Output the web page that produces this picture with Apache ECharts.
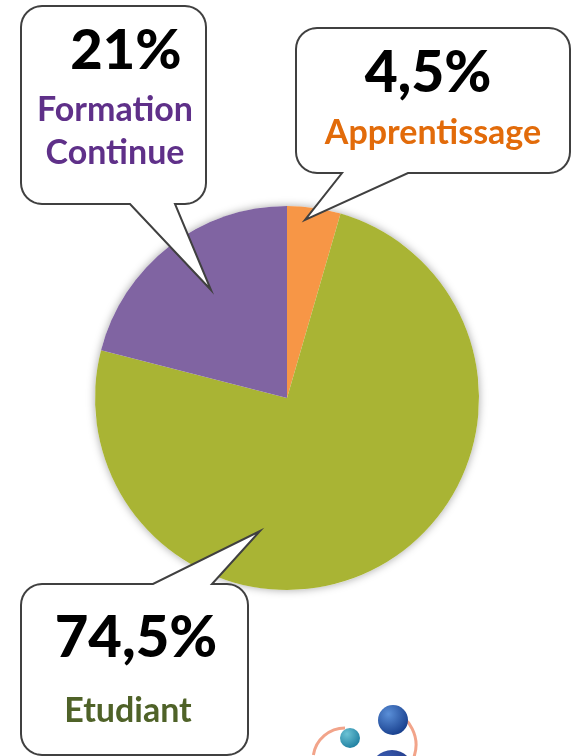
<!DOCTYPE html>
<html>
<head>
<meta charset="utf-8">
<script src="https://cdn.jsdelivr.net/npm/echarts@6/dist/echarts.min.js"></script>
<style>
  html, body { margin: 0; padding: 0; background: #fff; }
  #main { width: 571px; height: 756px; }
</style>
</head>
<body>
<div id="main"></div>
<script>
// data
const categories = ['Apprentissage', 'Etudiant', 'Formation Continue']
const values = [4.5, 74.5, 21]
const sliceColors = ['#F79646', '#A9B434', '#8064A2']
const labelColors = ['#E26B0A', '#4F6228', '#5F3089']

// callout bubbles (decoration): box, tail base on edge, tip
const bubbles = [
  { box: [296, 28, 570, 173], edge: 'bottom', base: [342, 408], tip: [305, 220], pct: [428, 74], name: [433, 133], pctSize: 57 },
  { box: [21, 584, 248, 755], edge: 'top', base: [153, 212], tip: [260, 531], pct: [136, 638], name: [128, 711], pctSize: 58 },
  { box: [21, 6, 206, 204], edge: 'bottom', base: [130, 175], tip: [211, 290], pct: [126, 51], name: [115, 132], pctSize: 56 }
]

function fmtPct(v) {
  return String(v).replace('.', ',') + '%'
}

// rounded corner points
function corner(cx, cy, r, a0, a1) {
  const pts = []
  for (let i = 0; i <= 8; i++) {
    const a = a0 + (a1 - a0) * i / 8
    pts.push([cx + r * Math.cos(a), cy + r * Math.sin(a)])
  }
  return pts
}

function bubblePoints(b) {
  const [x0, y0, x1, y1] = b.box
  const r = 21
  const P = Math.PI
  let pts = []
  pts = pts.concat(corner(x0 + r, y0 + r, r, P, 1.5 * P))
  if (b.edge === 'top') {
    pts.push([b.base[0], y0], b.tip, [b.base[1], y0])
  }
  pts = pts.concat(corner(x1 - r, y0 + r, r, 1.5 * P, 2 * P))
  pts = pts.concat(corner(x1 - r, y1 - r, r, 0, 0.5 * P))
  if (b.edge === 'bottom') {
    pts.push([b.base[1], y1], b.tip, [b.base[0], y1])
  }
  pts = pts.concat(corner(x0 + r, y1 - r, r, 0.5 * P, P))
  return pts
}

const font = 'Lato, "Open Sans", sans-serif'
const elements = []
bubbles.forEach(function (b, i) {
  elements.push({
    type: 'polygon',
    z: 100,
    shape: { points: bubblePoints(b) },
    style: { fill: '#fff', stroke: '#404040', lineWidth: 2 }
  })
  elements.push({
    type: 'text',
    z: 101,
    style: {
      text: fmtPct(values[i]),
      x: b.pct[0], y: b.pct[1],
      fill: '#000',
      font: '900 ' + b.pctSize + 'px ' + font,
      textAlign: 'center', textVerticalAlign: 'middle'
    }
  })
  elements.push({
    type: 'text',
    z: 101,
    style: {
      text: categories[i].replace(' ', '\n'),
      x: b.name[0], y: b.name[1],
      fill: labelColors[i],
      font: 'bold 34px ' + font,
      lineHeight: 43,
      textAlign: 'center', textVerticalAlign: 'middle'
    }
  })
})

// small logo in the lower right corner
function ball(cx, cy, r, c1, c2) {
  return {
    type: 'circle', z: 50,
    shape: { cx: cx, cy: cy, r: r },
    style: { fill: new echarts.graphic.RadialGradient(0.35, 0.3, 0.75, [
      { offset: 0, color: c1 }, { offset: 1, color: c2 }
    ]) }
  }
}
elements.push(
  { type: 'arc', z: 49, shape: { cx: 345, cy: 760, r: 32, startAngle: Math.PI * 1.05, endAngle: Math.PI * 1.5 },
    style: { stroke: '#F2A48A', lineWidth: 3, fill: null } },
  { type: 'arc', z: 49, shape: { cx: 380, cy: 745, r: 36, startAngle: Math.PI * 1.6, endAngle: Math.PI * 0.15 },
    style: { stroke: '#F2A48A', lineWidth: 3, fill: null } },
  ball(350, 738, 10, '#6CC3D5', '#1F7FA0'),
  ball(393, 720, 15, '#5A8FD8', '#173E8C'),
  ball(392, 772, 22, '#3F63B8', '#1A2E7A')
)

const chart = echarts.init(document.getElementById('main'))
chart.setOption({
  animation: false,
  color: sliceColors,
  series: [
    {
      // shadow disc under the pie
      type: 'pie',
      silent: true,
      center: [287, 398],
      radius: 192,
      z: 1,
      label: { show: false },
      data: [{ value: 1, itemStyle: { color: '#fff', shadowBlur: 8, shadowColor: 'rgba(0,0,0,0.35)' } }]
    },
    {
      type: 'pie',
      center: [287, 398],
      radius: 192,
      startAngle: 90,
      clockwise: true,
      z: 2,
      label: { show: false },
      labelLine: { show: false },
      itemStyle: { borderWidth: 0 },
      data: categories.map(function (c, i) {
        return { name: c, value: values[i] }
      })
    }
  ],
  graphic: { elements: elements }
})
</script>
</body>
</html>
